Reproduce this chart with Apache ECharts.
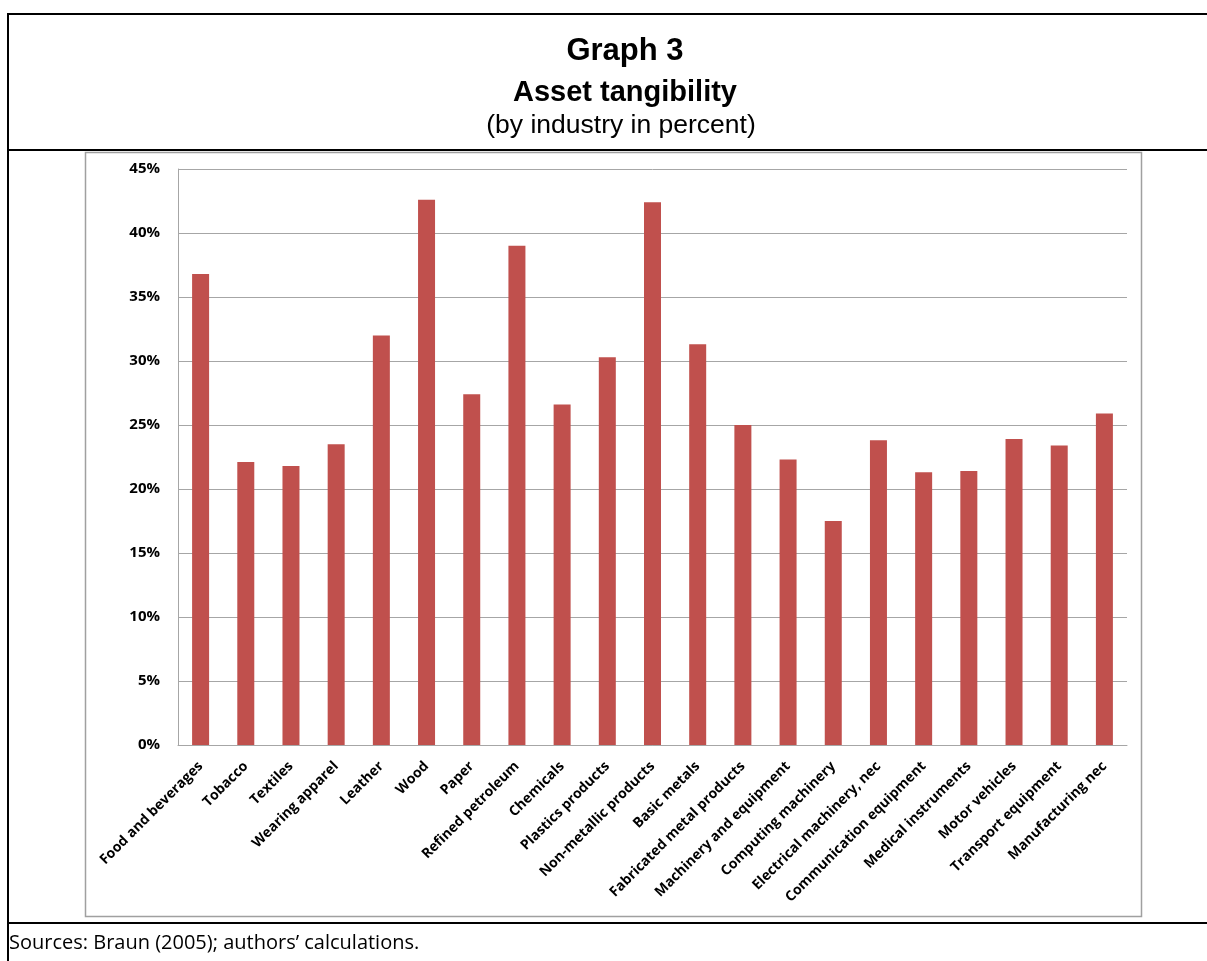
<!DOCTYPE html>
<html>
<head>
<meta charset="utf-8">
<script src="https://cdn.jsdelivr.net/npm/echarts@6/dist/echarts.min.js"></script>
<style>
html,body{margin:0;padding:0;background:#fff;}
#main{width:1207px;height:961px;}
</style>
</head>
<body>
<div id="main"></div>
<script>
const categories = ["Food and beverages","Tobacco","Textiles","Wearing apparel","Leather","Wood","Paper","Refined petroleum","Chemicals","Plastics products","Non-metallic products","Basic metals","Fabricated metal products","Machinery and equipment","Computing machinery","Electrical machinery, nec","Communication equipment","Medical instruments","Motor vehicles","Transport equipment","Manufacturing nec"];
const tangibility = [36.8,22.1,21.8,23.5,32.0,42.6,27.4,39.0,26.6,30.3,42.4,31.3,25.0,22.3,17.5,23.8,21.3,21.4,23.9,23.4,25.9];
const yTicks = [0,5,10,15,20,25,30,35,40,45];
const titleMain = "Graph 3";
const titleSub = "Asset tangibility";
const titleNote = "(by industry in percent)";
const sourceNote = "Sources: Braun (2005); authors\u2019 calculations.";

const chart = echarts.init(document.getElementById('main'), null, {renderer:'canvas'});
const option = {
  animation:false,
  backgroundColor:'#ffffff',
  grid:{left:178,right:80,top:169,bottom:216,containLabel:false},
  xAxis:{
    type:'category',
    data:categories,
    axisLine:{show:true,lineStyle:{color:'#a6a6a6',width:1}},
    axisTick:{show:false},
    axisLabel:{interval:0,rotate:45,margin:19,color:'#000',fontFamily:'Open Sans',fontWeight:'bold',fontSize:14}
  },
  yAxis:{
    type:'value',
    min:yTicks[0],max:yTicks[yTicks.length-1],interval:5,
    axisLine:{show:true,lineStyle:{color:'#a6a6a6',width:1}},
    axisTick:{show:false},
    splitLine:{show:true,lineStyle:{color:'#a6a6a6',width:1}},
    axisLabel:{formatter:'{value}%',margin:18,color:'#000',fontFamily:'Open Sans',fontWeight:'bold',fontSize:15}
  },
  series:[{
    type:'bar',
    data:tangibility,
    barWidth:17,
    itemStyle:{color:'#c0504d'}
  }],
  graphic:[
    {type:'line',shape:{x1:8,y1:14,x2:1207,y2:14},style:{stroke:'#000',lineWidth:2},z:10},
    {type:'line',shape:{x1:8,y1:13,x2:8,y2:961},style:{stroke:'#000',lineWidth:2},z:10},
    {type:'line',shape:{x1:8,y1:150,x2:1207,y2:150},style:{stroke:'#000',lineWidth:2},z:10},
    {type:'line',shape:{x1:8,y1:923,x2:1207,y2:923},style:{stroke:'#000',lineWidth:2},z:10},
    {type:'rect',shape:{x:85.5,y:152.5,width:1056,height:764},style:{fill:'none',stroke:'#a0a0a0',lineWidth:1.5},z:-1},
    {type:'text',x:625,y:51,style:{text:titleMain,font:'bold 31px "Liberation Sans", Arial, sans-serif',fill:'#000',textAlign:'center',textVerticalAlign:'middle'}},
    {type:'text',x:625,y:93,style:{text:titleSub,font:'bold 29px "Liberation Sans", Arial, sans-serif',fill:'#000',textAlign:'center',textVerticalAlign:'middle'}},
    {type:'text',x:621,y:126,style:{text:titleNote,font:'26.5px "Liberation Sans", Arial, sans-serif',fill:'#000',textAlign:'center',textVerticalAlign:'middle'}},
    {type:'text',x:9,y:943,style:{text:sourceNote,font:'20px "Open Sans", sans-serif',fill:'#000',textAlign:'left',textVerticalAlign:'middle'}}
  ]
};
chart.setOption(option);
</script>
</body>
</html>
